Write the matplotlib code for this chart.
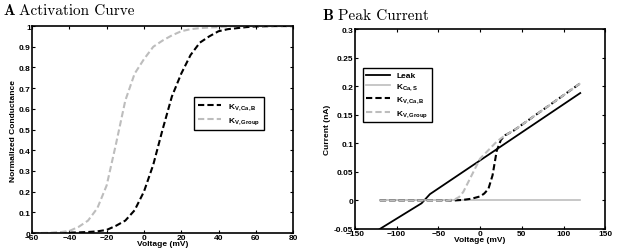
import numpy as np
from matplotlib import pyplot as plt

# Panel A: activation curves
volt_a = [-60, -55, -50, -45, -40, -35, -30, -25, -20, -15, -10, -5, 0, 5, 10, 15,
          20, 25, 30, 35, 40, 45, 50, 55, 60, 70, 80]
kv_cab = [0, 0, 0, 0.001, 0.002, 0.003, 0.005, 0.008, 0.015, 0.035, 0.06, 0.11, 0.2,
          0.33, 0.5, 0.66, 0.77, 0.86, 0.92, 0.95, 0.975, 0.985, 0.99, 0.995, 0.998, 1, 1]
kv_group = [0, 0, 0.001, 0.004, 0.01, 0.03, 0.06, 0.12, 0.23, 0.43, 0.64, 0.77, 0.84,
            0.9, 0.93, 0.955, 0.975, 0.985, 0.99, 0.993, 0.995, 0.998, 1, 1, 1, 1, 1]

# Panel B: peak currents
leak_v = [-120, -70, -60, 120]
leak_i = [-0.05, -0.005, 0.011, 0.188]
kcas_v = [-120, 120]
kcas_i = [0, 0]
cab_v = [-120, -40, -30, -20, -10, 0, 5, 10, 15, 20, 25, 30, 40, 120]
cab_i = [0, 0, 0, 0.001, 0.003, 0.007, 0.012, 0.02, 0.044, 0.087, 0.106, 0.114, 0.122, 0.205]
grp_v = [-120, -40, -30, -25, -20, -10, 0, 10, 20, 30, 40, 120]
grp_i = [0, 0, 0.002, 0.006, 0.015, 0.044, 0.073, 0.088, 0.103, 0.114, 0.122, 0.205]

plt.rcParams['font.family'] = 'Liberation Sans'
plt.rcParams['font.weight'] = 'bold'
plt.rcParams['mathtext.fontset'] = 'custom'
plt.rcParams['mathtext.rm'] = 'Liberation Sans:bold'
plt.rcParams['mathtext.bf'] = 'Liberation Sans:bold'
plt.rcParams['mathtext.it'] = 'Liberation Sans:bold'

gray = '#bdbdbd'
fs = 6
fig = plt.figure(figsize=(6.17, 2.53), dpi=100)
ax1 = fig.add_axes([0.052, 0.075, 0.423, 0.818])
ax2 = fig.add_axes([0.575, 0.091, 0.406, 0.79])

ax1.plot(volt_a, kv_cab, color='black', lw=1.5, dashes=(3, 1.5), label=r'K$_{\mathrm{V,Ca,B}}$')
ax1.plot(volt_a, kv_group, color=gray, lw=1.5, dashes=(3, 1.5), label=r'K$_{\mathrm{V,Group}}$')
ax1.set_xlim(-60, 80)
ax1.set_ylim(0, 1)
ax1.set_xticks(np.arange(-60, 81, 20))
ax1.set_yticks(np.arange(0, 1.01, 0.1))
ax1.set_yticklabels(['0', '0.1', '0.2', '0.3', '0.4', '0.5', '0.6', '0.7', '0.8', '0.9', '1'])
ax1.set_xlabel('Voltage (mV)', fontsize=fs, fontweight='bold', labelpad=-1)
ax1.set_ylabel('Normalized Conductance', fontsize=fs, fontweight='bold', labelpad=1)
ax1.legend(loc='upper right', bbox_to_anchor=(0.905, 0.675), fontsize=6, fancybox=False,
           edgecolor='black', framealpha=1, handlelength=2.8, borderpad=0.5,
           labelspacing=0.4).get_frame().set_linewidth(1.0)

ax2.plot(leak_v, leak_i, color='black', lw=1.3, label='Leak')
ax2.plot(kcas_v, kcas_i, color=gray, lw=1.2, label=r'K$_{\mathrm{Ca,S}}$')
ax2.plot(cab_v, cab_i, color='black', lw=1.5, dashes=(3, 1.5), label=r'K$_{\mathrm{V,Ca,B}}$')
ax2.plot(grp_v, grp_i, color=gray, lw=1.5, dashes=(3, 1.5), label=r'K$_{\mathrm{V,Group}}$')
ax2.set_xlim(-150, 150)
ax2.set_ylim(-0.05, 0.3)
ax2.set_xticks(np.arange(-150, 151, 50))
ax2.set_yticks([-0.05, 0, 0.05, 0.1, 0.15, 0.2, 0.25, 0.3])
ax2.set_yticklabels(['-0.05', '0', '0.05', '0.1', '0.15', '0.2', '0.25', '0.3'])
ax2.set_xlabel('Voltage (mV)', fontsize=fs, fontweight='bold', labelpad=-1)
ax2.set_ylabel('Current (nA)', fontsize=fs, fontweight='bold', labelpad=2)
ax2.legend(loc='upper left', bbox_to_anchor=(0.016, 0.825), fontsize=6, fancybox=False,
           edgecolor='black', framealpha=1, handlelength=2.8, borderpad=0.4,
           labelspacing=0.3).get_frame().set_linewidth(1.0)

for ax in (ax1, ax2):
    ax.tick_params(direction='in', top=True, right=True, labelsize=fs, length=2.5,
                   width=0.8, pad=1)
    for s in ax.spines.values():
        s.set_linewidth(1.2)
    for lab in ax.get_xticklabels() + ax.get_yticklabels():
        lab.set_fontweight('bold')

# panel titles
ta = fig.text(0.005, 0.955, 'A', family='cmb10', fontsize=11, va='center')
ax1.annotate('Activation Curve', xy=(1, 0), xycoords=ta, xytext=(3.5, 0),
             textcoords='offset points', family='cmr10', fontsize=11, va='bottom')
tb = fig.text(0.522, 0.935, 'B', family='cmb10', fontsize=11, va='center')
ax2.annotate('Peak Current', xy=(1, 0), xycoords=tb, xytext=(3.5, 0),
             textcoords='offset points', family='cmr10', fontsize=11, va='bottom')

plt.savefig('out.png', dpi=100)
